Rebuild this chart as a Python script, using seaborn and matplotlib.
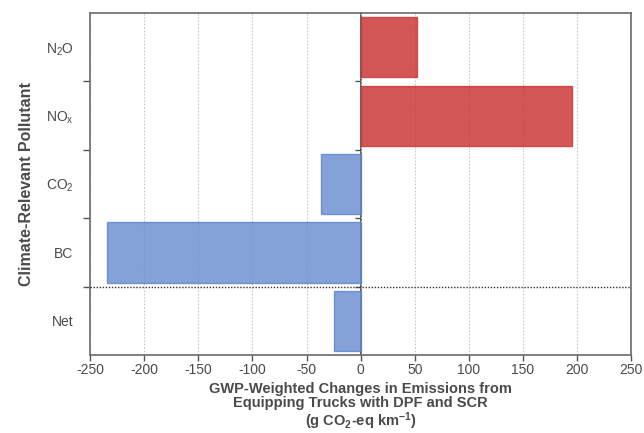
import matplotlib
matplotlib.use("Agg")
import matplotlib.pyplot as plt
import seaborn as sns
import pandas as pd
import numpy as np

# GWP-weighted emission changes by pollutant (g CO2-eq per km)
pollutants = [r"$\mathregular{N_2O}$", r"$\mathregular{NO_x}$", r"$\mathregular{CO_2}$", "BC", "Net"]
changes = [52, 195, -37, -234, -25]
x_ticks = [-250, -200, -150, -100, -50, 0, 50, 100, 150, 200, 250]

sns.set_theme(style="white")
plt.rcParams["font.family"] = ["Liberation Sans", "DejaVu Sans"]
plt.rcParams["mathtext.fontset"] = "custom"
plt.rcParams["mathtext.rm"] = "Liberation Sans"
plt.rcParams["mathtext.it"] = "Liberation Sans:italic"
plt.rcParams["mathtext.bf"] = "Liberation Sans:bold"

text_color = "#4a4a4a"
df = pd.DataFrame({"pollutant": pollutants, "change": changes})
df["sign"] = np.where(df["change"] >= 0, "increase", "decrease")

fig = plt.figure(figsize=(6.44, 4.33), dpi=100)
ax = fig.add_axes([0.14, 0.18, 0.84, 0.79])

face = {"increase": "#c92d2d", "decrease": "#658bcd"}
edge = {"increase": "#d22e2e", "decrease": "#5a80cf"}
sns.barplot(data=df, y="pollutant", x="change", hue="sign", palette=face,
            orient="h", width=0.88, dodge=False, legend=False, alpha=0.8,
            saturation=1, ax=ax, zorder=2)
for bar_container, s in zip(ax.containers, df["sign"].unique()):
    for patch in bar_container:
        patch.set_edgecolor(edge[s])
        patch.set_linewidth(1.0)

ax.set_xlim(-250, 250)
ax.set_ylim(4.5, -0.5)
ax.set_xticks(x_ticks)
ax.set_xticklabels([str(t) for t in x_ticks])
ax.xaxis.grid(True, linestyle=(0, (1.5, 1.5)), color="#c8c8c8", linewidth=0.8, zorder=0)
ax.set_axisbelow(True)

# category labels sit between boundary ticks
boundaries = np.arange(0.5, len(pollutants) - 0.5, 1.0)
ax.set_yticks(boundaries, minor=True)
ax.tick_params(axis="y", which="major", length=0, pad=12, labelsize=10, labelcolor=text_color)
ax.tick_params(axis="y", which="minor", left=True, length=5, width=1, color="#555555", direction="out")
ax.tick_params(axis="x", which="major", bottom=True, length=4, width=1, color="#555555",
               direction="out", pad=2, labelsize=10, labelcolor=text_color)

for sp in ax.spines.values():
    sp.set_color("#6a6a6a")
    sp.set_linewidth(1.2)

# zero line carrying its own boundary ticks, pointing left
zero_axis = ax.secondary_yaxis(0.5)
zero_axis.set_yticks(boundaries)
zero_axis.set_yticklabels([])
zero_axis.yaxis.tick_left()
zero_axis.tick_params(left=True, right=False, length=4, width=1, color="#555555", direction="out")
for side in ("left", "right"):
    zero_axis.spines[side].set_color("#444444")
    zero_axis.spines[side].set_linewidth(1.2)

# separator between pollutants and the net total
ax.axhline(3.5, color="#333333", linestyle=(0, (1, 1.2)), linewidth=1.0, zorder=3)

ax.set_ylabel("Climate-Relevant Pollutant", fontsize=11.5, fontweight="bold", color=text_color, labelpad=8)
ax.set_xlabel("GWP-Weighted Changes in Emissions from\nEquipping Trucks with DPF and SCR\n"
              r"(g CO$_\mathbf{2}$-eq km$^\mathbf{-1}$)",
              fontsize=10.5, fontweight="bold", color=text_color, labelpad=3, linespacing=1.05)

fig.savefig("out.png", dpi=100)
